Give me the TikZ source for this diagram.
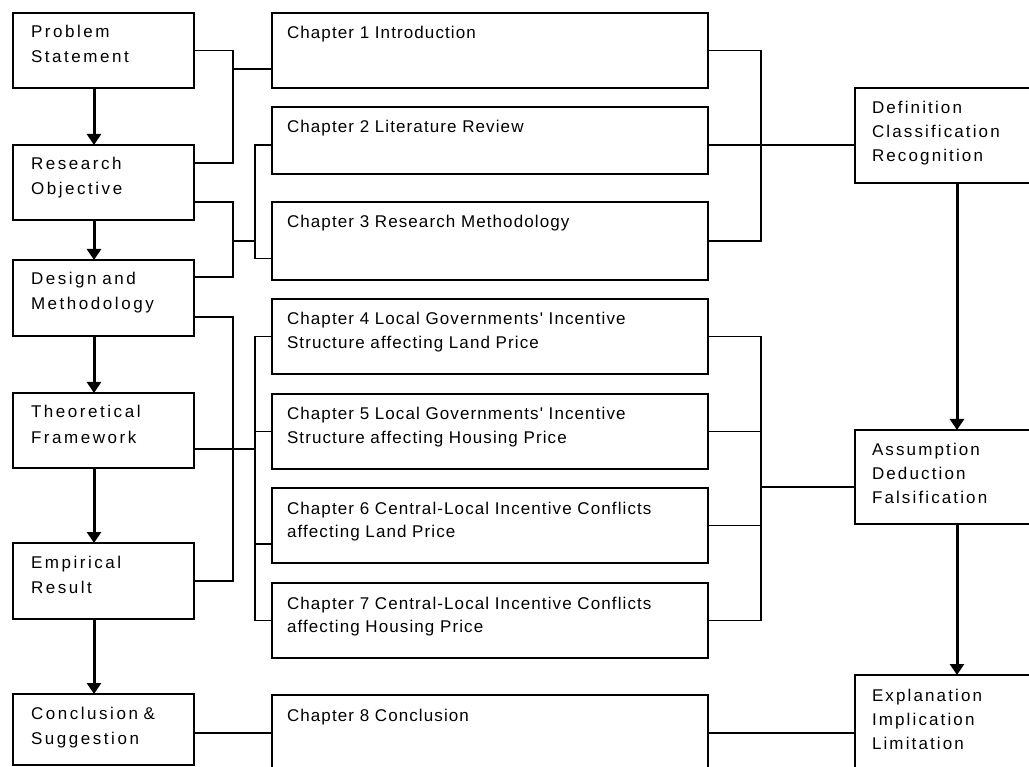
\documentclass[tikz,border=0pt]{standalone}
\usepackage{fontspec}
\newfontfamily\boxfont{Liberation Sans}[LetterSpace=15]
\newfontfamily\sidefont{Liberation Sans}[LetterSpace=12.5]
\newfontfamily\chapfont{Liberation Sans}[LetterSpace=6.5]
\usepackage{tikz}
\usetikzlibrary{positioning, arrows.meta}
\tikzstyle{stage} = [rectangle, draw=black, line width=1.6pt, outer sep=0pt, inner xsep=18pt, inner ysep=0pt, text width=145pt, align=left, text height=25pt, text depth=50pt, anchor=north west, font=\boxfont\fontsize{17}{25}\selectfont]
\tikzstyle{chapter} = [rectangle, draw=black, line width=1.6pt, outer sep=0pt, inner xsep=15pt, inner ysep=0pt, text width=406pt, align=left, text height=26pt, text depth=49pt, anchor=north west, font=\chapfont\fontsize{17}{23.5}\selectfont]
\tikzstyle{method} = [rectangle, draw=black, line width=1.6pt, outer sep=0pt, inner xsep=17pt, inner ysep=0pt, text width=150pt, align=left, text height=26pt, text depth=69pt, anchor=north west, font=\sidefont\fontsize{17}{24}\selectfont]
\tikzstyle{link} = [draw=black, line width=1.4pt]
\tikzstyle{flow} = [draw=black, line width=3pt, -{Triangle[width=14pt,length=11pt]}]

\begin{document}
\begin{tikzpicture}[x=1pt, y=-1pt]
	\useasboundingbox (0,0) rectangle (1029,767);

	% Research stages
	\node (s1) [stage] at (13,13) {Problem\\Statement};
	\node (s2) [stage, below=57pt of s1] {Research\\Objective};
	\node (s3) [stage, below=40pt of s2, text depth=51pt] {Design and\\Methodology};
	\node (s4) [stage, below=57pt of s3] {Theoretical\\Framework};
	\node (s5) [stage, below=75pt of s4, text depth=51pt] {Empirical\\Result};
	\node (s6) [stage, below=75pt of s5, text depth=46pt] {Conclusion \&\\Suggestion};

	% Chapters
	\node (ch1) [chapter, right=78pt of s1] {Chapter 1 Introduction};
	\node (ch2) [chapter, below=19pt of ch1, text depth=41pt] {Chapter 2 Literature Review};
	\node (ch3) [chapter, below=28pt of ch2, text depth=52pt] {Chapter 3 Research Methodology};
	\node (ch4) [chapter, below=19pt of ch3] {Chapter 4 Local Governments' Incentive\\Structure affecting Land Price};
	\node (ch5) [chapter, below=20pt of ch4] {Chapter 5 Local Governments' Incentive\\Structure affecting Housing Price};
	\node (ch6) [chapter, below=19pt of ch5] {Chapter 6 Central-Local Incentive Conflicts\\affecting Land Price};
	\node (ch7) [chapter, below=20pt of ch6] {Chapter 7 Central-Local Incentive Conflicts\\affecting Housing Price};
	\node (ch8) [chapter, below=37pt of ch7, text depth=69pt] {Chapter 8 Conclusion};

	% Methods column
	\node (r1) [method, text depth=69pt] at (855,88) {Definition\\Classification\\Recognition};
	\node (r2) [method, below=247pt of r1, text depth=68pt] {Assumption\\Deduction\\Falsification};
	\node (r3) [method, below=151pt of r2, text depth=74pt] {Explanation\\Implication\\Limitation};

	% bus lines
	\coordinate (bus1) at (233,0);
	\coordinate (bus2) at (255,0);
	\coordinate (bus3) at (761,0);

	% Stage arrows
	\path [flow] ([xshift=-9.5pt]s1.south) -- ([xshift=-9.5pt]s2.north);
	\path [flow] ([xshift=-9.5pt]s2.south) -- ([xshift=-9.5pt]s3.north);
	\path [flow] ([xshift=-9.5pt]s3.south) -- ([xshift=-9.5pt]s4.north);
	\path [flow] ([xshift=-9.5pt]s4.south) -- ([xshift=-9.5pt]s5.north);
	\path [flow] ([xshift=-9.5pt]s5.south) -- ([xshift=-9.5pt]s6.north);
	\path [flow] ([xshift=10pt]r1.south) -- ([xshift=10pt]r2.north);
	\path [flow] ([xshift=10pt]r2.south) -- ([xshift=10pt]r3.north);

	% Stages to chapters
	\path [link] (s1.east) -| ([yshift=19.5pt]s2.east -| bus1) -- ([yshift=19.5pt]s2.east);
	\path [link] ([yshift=-18.5pt]ch1.west -| bus1) -- ([yshift=-18.5pt]ch1.west);

	\path [link] ([yshift=-19.5pt]s2.east) -| ([yshift=21pt]s3.east -| bus1) -- ([yshift=21pt]s3.east);
	\path [link] (bus1 |- ch3.east) -- (bus2 |- ch3.east);
	\path [link] ([yshift=-4.5pt]ch2.west) -| ([yshift=-17.5pt]ch3.west -| bus2) -- ([yshift=-17.5pt]ch3.west);

	\path [link] ([yshift=-19pt]s3.east) -| (bus1 |- s5.east) -- (s5.east);
	\path [link] ([yshift=-18.5pt]s4.east) -- ([yshift=-18.5pt]s4.east -| bus2);
	\path [link] (ch4.west) -| (bus2 |- ch7.west) -- (ch7.west);
	\path [link] (ch5.west) -- (ch5.west -| bus2);
	\path [link] ([yshift=-18.5pt]ch6.west) -- ([yshift=-18.5pt]ch6.west -| bus2);

	\path [link] ([yshift=-3.5pt]s6.east) -- ([yshift=-3.5pt]s6.east -| ch8.west);

	% Chapters to methods
	\path [link] (ch1.east) -| (bus3 |- ch3.east) -- (ch3.east);
	\path [link] ([yshift=-4.5pt]ch2.east) -- ([yshift=-4.5pt]ch2.east -| r1.west);

	\path [link] (ch4.east) -| (bus3 |- ch7.east) -- (ch7.east);
	\path [link] (ch5.east) -- (ch5.east -| bus3);
	\path [link] (ch6.east) -- (ch6.east -| bus3);
	\path [link] ([yshift=-10pt]r2.west -| bus3) -- ([yshift=-10pt]r2.west);

	\path [link] ([yshift=9.5pt]ch8.east) -- ([yshift=9.5pt]ch8.east -| r3.west);
\end{tikzpicture}
\end{document}
